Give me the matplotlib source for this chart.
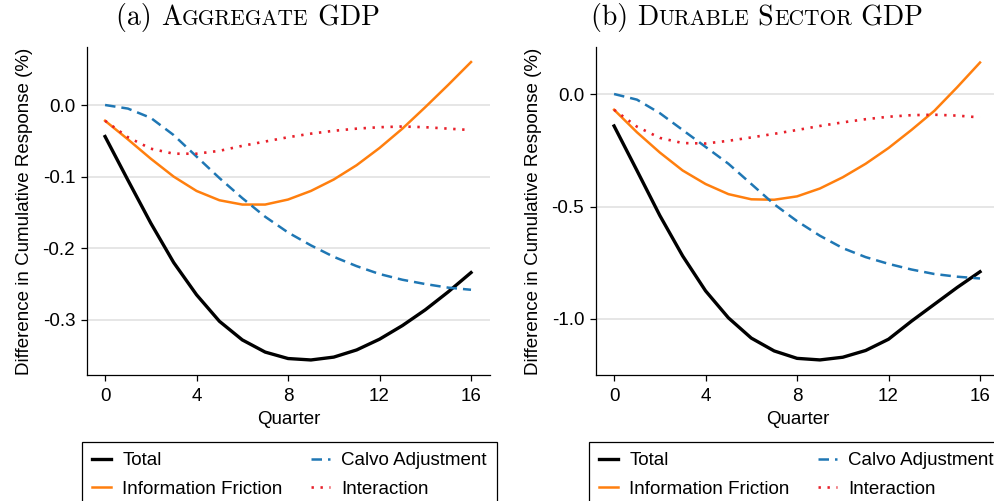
import matplotlib.pyplot as plt
from matplotlib.offsetbox import TextArea, HPacker, AnchoredOffsetbox

plt.rcParams['font.family'] = ['Liberation Sans', 'DejaVu Sans']
plt.rcParams['axes.unicode_minus'] = False

quarters = list(range(17))

# (a) aggregate GDP
agg_total = [-0.044, -0.105, -0.165, -0.220, -0.265, -0.302, -0.328, -0.345, -0.354,
             -0.356, -0.352, -0.342, -0.327, -0.308, -0.286, -0.261, -0.234]
agg_info = [-0.022, -0.048, -0.075, -0.100, -0.120, -0.133, -0.139, -0.139, -0.132,
            -0.120, -0.104, -0.084, -0.060, -0.033, -0.003, 0.028, 0.060]
agg_calvo = [0.000, -0.005, -0.018, -0.042, -0.072, -0.102, -0.130, -0.156, -0.178,
             -0.196, -0.212, -0.225, -0.236, -0.244, -0.250, -0.255, -0.258]
agg_inter = [-0.022, -0.045, -0.061, -0.068, -0.068, -0.064, -0.057, -0.051, -0.045,
             -0.040, -0.036, -0.033, -0.031, -0.030, -0.031, -0.033, -0.035]

# (b) durable sector GDP
dur_total = [-0.142, -0.340, -0.540, -0.720, -0.875, -0.995, -1.085, -1.142, -1.175,
             -1.182, -1.170, -1.140, -1.090, -1.010, -0.935, -0.860, -0.790]
dur_info = [-0.070, -0.170, -0.260, -0.340, -0.400, -0.445, -0.468, -0.470, -0.455,
            -0.420, -0.370, -0.310, -0.240, -0.160, -0.075, 0.030, 0.140]
dur_calvo = [0.000, -0.025, -0.085, -0.160, -0.235, -0.310, -0.400, -0.490, -0.565,
             -0.630, -0.685, -0.725, -0.755, -0.780, -0.800, -0.812, -0.820]
dur_inter = [-0.070, -0.145, -0.195, -0.218, -0.220, -0.208, -0.193, -0.177, -0.160,
             -0.142, -0.126, -0.112, -0.101, -0.094, -0.092, -0.096, -0.104]

title_tags = ['(a) ', '(b) ']
titles = ['Aggregate GDP', 'Durable Sector GDP']
yticks = [[-0.3, -0.2, -0.1, 0.0], [-1.0, -0.5, 0.0]]
ylims = [(-0.377, 0.081), (-1.249, 0.209)]
series = [(agg_total, agg_info, agg_calvo, agg_inter),
          (dur_total, dur_info, dur_calvo, dur_inter)]

W, H = 994, 501
fs = 13.5
fig = plt.figure(figsize=(W / 100, H / 100), dpi=100)


def small_caps(tag, text, big=20, small=15.4):
    # fake small caps: lowercase letters drawn as smaller capitals
    parts = [(tag, False)]
    cur, cur_small = '', None
    for ch in text:
        is_small = ch.islower()
        if cur_small is not None and is_small != cur_small:
            parts.append((cur, cur_small))
            cur = ''
        cur += ch.upper() if is_small else ch
        cur_small = is_small
    parts.append((cur, cur_small))
    boxes = [TextArea(s, textprops=dict(family='cmr10', size=small if sm else big))
             for s, sm in parts]
    return HPacker(children=boxes, align='baseline', pad=0, sep=0)


lefts = [87, 596]
title_x = [248, 757]
legend_x = [82, 589]
for i in range(2):
    ax = fig.add_axes([lefts[i] / W, 1 - 375 / H, 403 / W, 328 / H])
    total, info, calvo, inter = series[i]
    ax.plot(quarters, total, color='black', lw=2.4, label='Total')
    ax.plot(quarters, info, color='#ff7f0e', lw=1.8, label='Information Friction')
    ax.plot(quarters, calvo, color='#1f77b4', lw=1.8, ls=(0, (4.2, 2.4)), label='Calvo Adjustment')
    ax.plot(quarters, inter, color='#e8202a', lw=1.9, ls=(0, (0.9, 2.5)), label='Interaction')

    ax.set_xlim(-0.79, 16.83)
    ax.set_ylim(*ylims[i])
    ax.set_xticks([0, 4, 8, 12, 16])
    ax.set_yticks(yticks[i])
    ax.set_yticklabels(['%.1f' % v for v in yticks[i]])
    ax.yaxis.grid(True, color='#e2e2e2', lw=1.2)
    ax.set_axisbelow(True)
    for s in ['top', 'right']:
        ax.spines[s].set_visible(False)
    for s in ['left', 'bottom']:
        ax.spines[s].set_linewidth(0.9)
    ax.tick_params(length=4.5, width=0.9, labelsize=fs)
    ax.tick_params(axis='y', pad=4)
    ax.tick_params(axis='x', pad=5)
    ax.set_xlabel('Quarter', fontsize=fs, labelpad=4)
    ax.set_ylabel('Difference in Cumulative Response (%)', fontsize=fs, labelpad=7)

    box = AnchoredOffsetbox(loc='lower center', child=small_caps(title_tags[i], titles[i]),
                            pad=0, borderpad=0, frameon=False,
                            bbox_to_anchor=(title_x[i] / W, 1 - 32 / H),
                            bbox_transform=fig.transFigure)
    fig.add_artist(box)

    h, l = ax.get_legend_handles_labels()
    leg = ax.legend(h, l, loc='upper left',
                    bbox_to_anchor=(legend_x[i] / W, 1 - 442 / H),
                    bbox_transform=fig.transFigure, ncol=2, fontsize=fs,
                    handlelength=1.0, handletextpad=0.6, labelspacing=0.6,
                    columnspacing=1.5, borderpad=0.55,
                    borderaxespad=0, fancybox=False, edgecolor='black', framealpha=1)
    leg.get_frame().set_linewidth(0.9)

fig.savefig('out.png', dpi=100)
